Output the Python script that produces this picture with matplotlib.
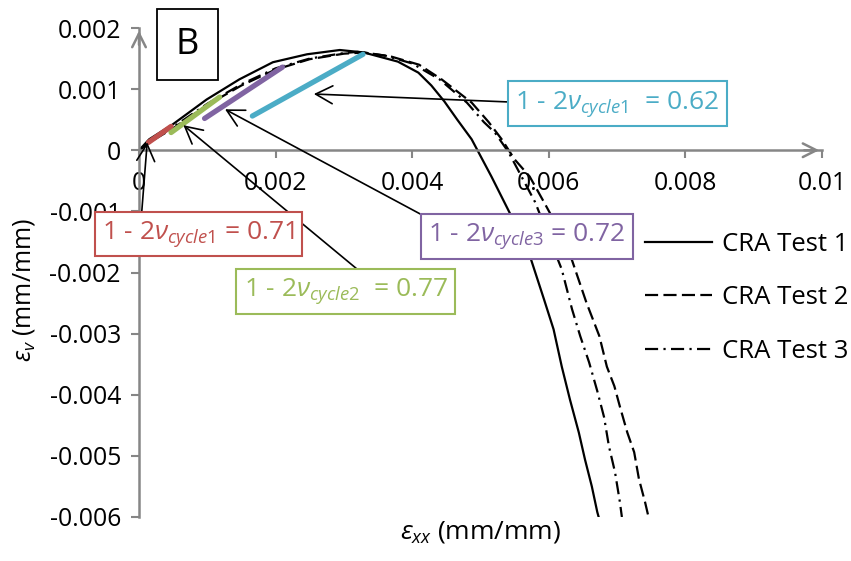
import matplotlib
matplotlib.use("Agg")
import matplotlib.pyplot as plt
from matplotlib.patches import Rectangle

plt.rcParams['font.family'] = ['Open Sans', 'DejaVu Sans']
plt.rcParams['mathtext.fontset'] = 'custom'
plt.rcParams['mathtext.rm'] = 'Open Sans'
plt.rcParams['mathtext.it'] = 'Open Sans:italic'

# volumetric strain vs lateral strain, three CRA tests
x_test1 = [0, 0.00015, 0.00049, 0.00099, 0.00147, 0.00196, 0.00246, 0.00294, 0.00329,
           0.00379, 0.00409, 0.00428, 0.00447, 0.00466, 0.00487, 0.00516, 0.00543,
           0.0057, 0.00593, 0.00607, 0.00619, 0.00631, 0.00644, 0.00653, 0.00663,
           0.00671, 0.00673]
y_test1 = [0, 0.00018, 0.00042, 0.00083, 0.00116, 0.00144, 0.00157, 0.00164, 0.0016,
           0.00145, 0.00127, 0.00106, 0.0008, 0.0005, 0.00018, -0.00043, -0.00103,
           -0.00165, -0.00244, -0.00293, -0.00354, -0.00408, -0.00462, -0.00506, -0.0055,
           -0.00592, -0.006]

x_test2 = [0, 0.0002, 0.0005, 0.001, 0.0015, 0.002, 0.0025, 0.003, 0.0033, 0.0037,
           0.0041, 0.00443, 0.00487, 0.00512, 0.00531, 0.0055, 0.00572, 0.00593,
           0.00615, 0.00634, 0.00655, 0.00674, 0.00685, 0.00696, 0.00704, 0.00715,
           0.00725, 0.00732, 0.00741, 0.00746]
y_test2 = [0, 0.00016, 0.00036, 0.00074, 0.00106, 0.00132, 0.00149, 0.00158, 0.0016,
           0.00153, 0.0014, 0.00116, 0.00078, 0.00046, 0.00018, -0.00015, -0.00043,
           -0.00085, -0.0013, -0.0018, -0.00249, -0.00304, -0.00354, -0.00386, -0.00419,
           -0.00462, -0.00494, -0.00538, -0.00576, -0.006]

x_test3 = [0, 0.0002, 0.0005, 0.001, 0.0015, 0.002, 0.0025, 0.003, 0.0032, 0.0036,
           0.004, 0.0044, 0.0048, 0.00505, 0.00521, 0.00541, 0.0058, 0.00619, 0.00634,
           0.00646, 0.00659, 0.00671, 0.00681, 0.00688, 0.00697, 0.00704, 0.00707]
y_test3 = [0, 0.00017, 0.00038, 0.00076, 0.00108, 0.00134, 0.0015, 0.00159, 0.00161,
           0.00155, 0.00142, 0.00116, 0.00078, 0.00046, 0.00029, -0.00003, -0.00085,
           -0.00195, -0.0026, -0.00304, -0.00347, -0.00394, -0.00437, -0.00484, -0.00527,
           -0.00575, -0.006]

# unload/reload cycles
cyc_red_x, cyc_red_y = [0.00014, 0.00047], [0.00013, 0.00039]
cyc_green_x, cyc_green_y = [0.00047, 0.00118], [0.00029, 0.00087]
cyc_purple_x, cyc_purple_y = [0.00096, 0.0021], [0.00052, 0.00136]
cyc_cyan_x, cyc_cyan_y = [0.00166, 0.00328], [0.00056, 0.00157]

xticks = [0, 0.002, 0.004, 0.006, 0.008, 0.01]
xticklabels = ['0', '0.002', '0.004', '0.006', '0.008', '0.01']
yticks = [0.002, 0.001, 0, -0.001, -0.002, -0.003, -0.004, -0.005, -0.006]
yticklabels = ['0.002', '0.001', '0', '-0.001', '-0.002', '-0.003', '-0.004', '-0.005', '-0.006']

red = '#C0504D'
green = '#9BBB59'
purple = '#8064A2'
cyan = '#4BACC6'
grey = '#868686'

fig = plt.figure(figsize=(8.51, 5.61), dpi=100)
ax = fig.add_axes([139 / 851, 1 - 517 / 561, 683 / 851, 489 / 561])
ax.set_xlim(0, 0.01)
ax.set_ylim(-0.006, 0.002)

ax.plot(x_test1, y_test1, color='black', lw=1.6, label='CRA Test 1')
ax.plot(x_test2, y_test2, color='black', lw=1.6, ls=(0, (5.9, 2.4)), label='CRA Test 2')
ax.plot(x_test3, y_test3, color='black', lw=1.6, ls=(0, (5.9, 2.4, 1, 2.4)), label='CRA Test 3')

for cx, cy, c in [(cyc_red_x, cyc_red_y, red), (cyc_green_x, cyc_green_y, green),
                  (cyc_purple_x, cyc_purple_y, purple), (cyc_cyan_x, cyc_cyan_y, cyan)]:
    ax.plot(cx, cy, color=c, lw=3.8, solid_capstyle='round', zorder=3)

# spines
for s in ['top', 'right']:
    ax.spines[s].set_visible(False)
ax.spines['bottom'].set_position(('data', 0))
for s in ['left', 'bottom']:
    ax.spines[s].set_color(grey)
    ax.spines[s].set_linewidth(1.8)

ax.set_xticks(xticks)
ax.set_xticklabels(xticklabels)
ax.set_yticks(yticks)
ax.set_yticklabels(yticklabels)
ax.tick_params(axis='both', colors=grey, labelcolor='black', labelsize=17.8,
               direction='out', width=1.5, length=6)
ax.tick_params(axis='x', pad=9)
ax.tick_params(axis='y', pad=7)

# arrow heads at the ends of the axes
axis_arrow = dict(arrowstyle='->,head_length=0.7,head_width=0.35', color=grey,
                  lw=1.8, mutation_scale=14)
ax.annotate('', xy=(1, 0), xycoords=('axes fraction', 'data'), xytext=(0.97, 0),
            arrowprops=axis_arrow, annotation_clip=False)
ax.annotate('', xy=(0, 1), xycoords='axes fraction', xytext=(0, 0.96),
            arrowprops=axis_arrow, annotation_clip=False)

ax.set_xlabel(r'$\varepsilon_{xx}$ (mm/mm)', fontsize=19)
ax.xaxis.set_label_coords(0.5, -0.004)
ax.set_ylabel(r'$\varepsilon_{v}$ (mm/mm)', fontsize=18)
ax.yaxis.set_label_coords(-0.15, 0.465)

# annotation boxes with arrows pointing at the cycles
labels = [
    (r'1 - 2$\nu_{cycle1}$  = 0.62', cyan, (0.0070, 0.00076), (0.00541, 0.00079), (0.00256, 0.00092)),
    (r'1 - 2$\nu_{cycle1}$ = 0.71', red, (0.00087, -0.00137), (0.00004, -0.00101), (0.00012, 0.00013)),
    (r'1 - 2$\nu_{cycle2}$  = 0.77', green, (0.00303, -0.00231), (0.00321, -0.00196), (0.00065, 0.00041)),
    (r'1 - 2$\nu_{cycle3}$ = 0.72', purple, (0.00568, -0.00141), (0.00413, -0.00105), (0.00126, 0.00067)),
]
for txt, c, pos, tail, head in labels:
    ax.annotate('', xy=head, xytext=tail,
                arrowprops=dict(arrowstyle='->,head_length=0.87,head_width=0.46', color='black',
                                lw=1.2, mutation_scale=14, shrinkA=0, shrinkB=0), zorder=4)
    ax.text(pos[0], pos[1], txt, color=c, fontsize=19, ha='center', va='center', zorder=5,
            bbox=dict(boxstyle='square,pad=0.28', fc='white', ec=c, lw=1.5))

# panel letter
fig.add_artist(Rectangle((157 / 851, 1 - 80 / 561), 61 / 851, 71 / 561,
                         transform=fig.transFigure, fc='white', ec='black', lw=1.3))
fig.text(187.5 / 851, 1 - 44.5 / 561, 'B', fontsize=26, ha='center', va='center')

ax.legend(loc='upper left', bbox_to_anchor=(645 / 851, 1 - 232 / 561),
          bbox_transform=fig.transFigure, frameon=False, fontsize=18.5,
          handlelength=2.6, handletextpad=0.4, labelspacing=1.1,
          borderpad=0, borderaxespad=0)

fig.savefig('out.png', dpi=100)
